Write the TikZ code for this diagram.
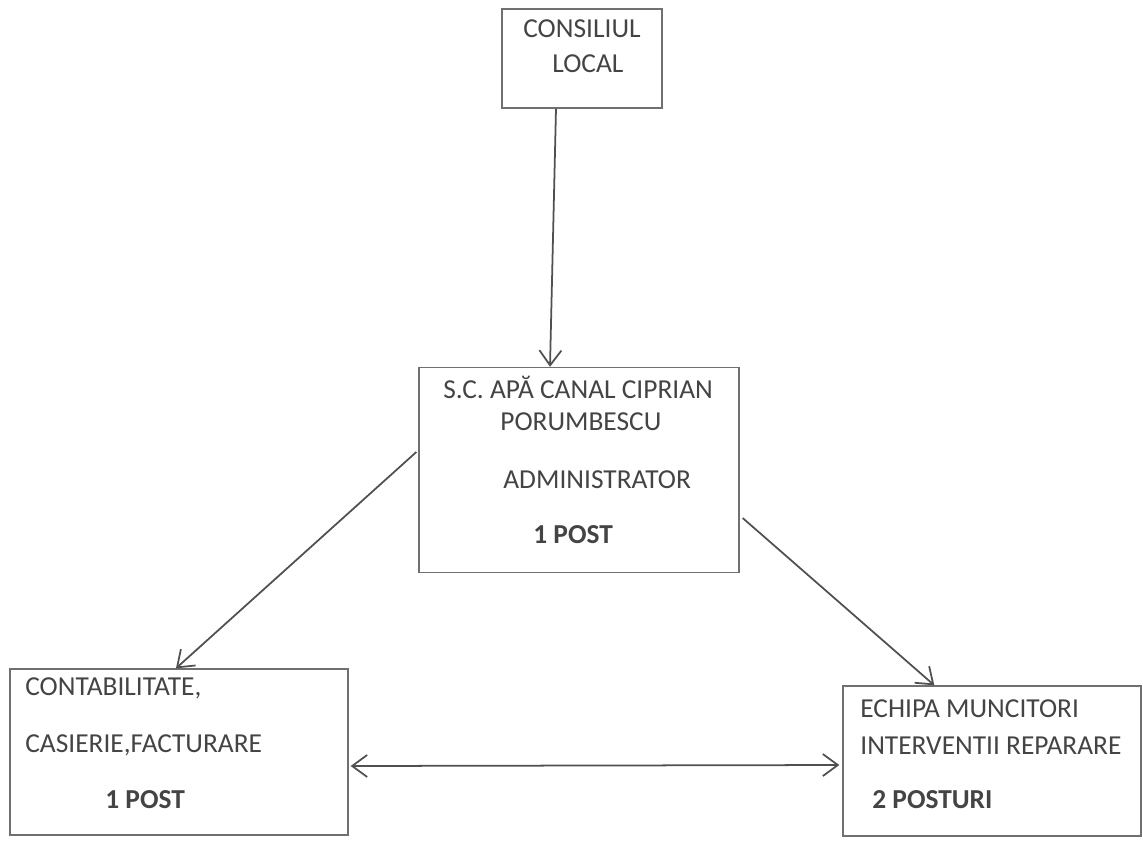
\documentclass[tikz,border=0pt]{standalone}
\usepackage{fontspec}
\setmainfont{Carlito}
\usepackage{tikz}
\usetikzlibrary{calc,arrows.meta}
\definecolor{linegray}{HTML}{707070}
\definecolor{arrowgray}{HTML}{505050}
\definecolor{textgray}{HTML}{444444}
\tikzstyle{box} = [rectangle, draw=linegray, line width=0.8pt, inner sep=0pt]
\tikzstyle{txt} = [anchor=west, inner sep=0pt, text=textgray, font=\fontsize{15.6}{18}\selectfont]
\tikzstyle{post} = [txt, font=\fontsize{15.6}{18}\selectfont\bfseries]
\tikzstyle{arrow} = [line width=1pt, draw=arrowgray, ->, >={Straight Barb[length=3mm,width=4.4mm]}]

\begin{document}
\begin{tikzpicture}[x=0.02cm,y=-0.02cm]
\useasboundingbox (0,0) rectangle (1143,840);
\node (consiliul) [box, minimum width=3.2cm, minimum height=1.98cm] at (582,58.5) {};
\node (main) [box, minimum width=6.4cm, minimum height=4.1cm] at (579,470) {};
\node (contab) [box, minimum width=6.76cm, minimum height=3.32cm] at (179,752) {};
\node (echipa) [box, minimum width=5.96cm, minimum height=3cm] at (992,761) {};

\node (t1) [txt] at (523,29) {CONSILIUL};
\node (t2) [txt] at (552,64) {LOCAL};
\node (t3) [txt] at (443,387) {S.C. APĂ CANAL CIPRIAN};
\node (t4) [txt] at (500,422) {PORUMBESCU};
\node (t5) [txt] at (503,480) {ADMINISTRATOR};
\node (t6) [post] at (533,535) {1 POST};
\node (t7) [txt] at (25,688) {CONTABILITATE,};
\node (t8) [txt] at (25,745) {CASIERIE,FACTURARE};
\node (t9) [post] at (105,800) {1 POST};
\node (t10) [txt] at (860,709) {ECHIPA MUNCITORI};
\node (t11) [txt] at (860,746) {INTERVENTII REPARARE};
\node (t12) [post] at (872,800) {2 POSTURI};

\draw [arrow] ($(consiliul.south)+(-26,0)$) -- ($(main.north)+(-29,0)$);
\draw [arrow] ($(main.west)+(-2,-18)$) -- ($(contab.north)+(-3,0)$);
\draw [arrow] ($(main.east)+(3,48)$) -- ($(echipa.north west)+(92,0)$);
\draw [arrow, <->] ($(contab.east)+(2,14)$) -- ($(echipa.west)+(-3,4)$);
\end{tikzpicture}
\end{document}
